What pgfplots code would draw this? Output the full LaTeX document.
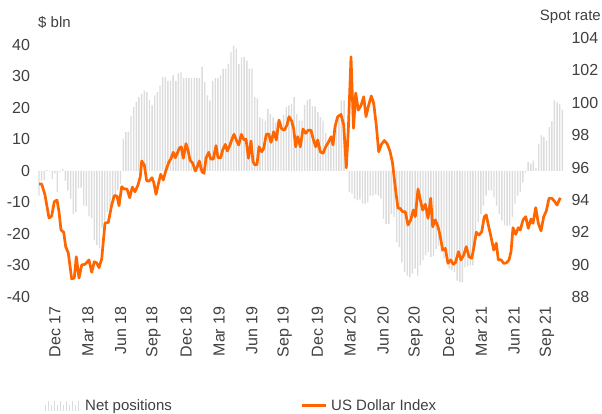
\documentclass[border=0pt]{standalone}
\usepackage{fontspec}
\setmainfont{Liberation Sans}
\usepackage{pgfplots}
\pgfplotsset{compat=1.18}
\definecolor{dxy}{RGB}{255,102,0}
\definecolor{barg}{RGB}{220,220,220}
\definecolor{txt}{RGB}{64,64,64}

\begin{document}
\begin{tikzpicture}[font=\fontsize{15}{18}\selectfont, text=txt]
\useasboundingbox (0,0) rectangle (602pt,414pt);
\pgfplotsset{base/.style={at={(38pt,117pt)}, anchor=south west, scale only axis,
  width=527pt, height=259pt, xmin=38, xmax=565,
  axis line style={draw=none}, tick style={draw=none},
  /pgf/number format/assume math mode=true,
  tick label style={font=\fontsize{16}{19}\selectfont, text=txt}}}
\begin{axis}[base, ymin=-40, ymax=42.2, ytick={-40,-30,...,40},
  yticklabel style={xshift=-4.5pt},
  xtick={55,87.8,...,547},
  xticklabels={Dec 17,Mar 18,Jun 18,Sep 18,Dec 18,Mar 19,Jun 19,Sep 19,Dec 19,Mar 20,Jun 20,Sep 20,Dec 20,Mar 21,Jun 21,Sep 21},
  xticklabel style={rotate=90, anchor=east, xshift=-6pt}]
\addplot[ybar, bar width=1.4pt, bar shift=0pt, fill=barg, draw=none] coordinates {
(39.0,-7.8)(41.6,-3.1)(44.3,-2.8)(46.9,0.3)(49.5,-0.2)(52.2,-2.6)(54.8,-0.8)(57.4,-6.7)(60.0,-0.4)(62.7,0.7)
(65.3,-3.1)(67.9,-6.2)(70.6,-8.8)(73.2,-13.6)(75.8,-13.1)(78.5,-5.5)(81.1,-5.3)(83.7,-11)(86.3,-11.2)(89.0,-14.3)
(91.6,-15)(94.2,-22)(96.9,-23.5)(99.5,-24.5)(102.1,-18)(104.7,-16)(107.4,-13)(110.0,-11)(112.6,-10)(115.3,-8.5)
(117.9,-6)(120.5,-4)(123.2,10.3)(125.8,12.3)(128.4,12.5)(131.0,17.6)(133.7,20.3)(136.3,21.9)(138.9,23.4)(141.6,24.5)
(144.2,25.5)(146.8,25)(149.5,22.6)(152.1,20.8)(154.7,24)(157.3,25)(160.0,27)(162.6,29.8)(165.2,29.9)(167.9,28.6)
(170.5,28.6)(173.1,30.3)(175.8,28.5)(178.4,31)(181.0,31.3)(183.6,29.5)(186.3,29.5)(188.9,29.5)(191.5,29.5)(194.2,29.5)
(196.8,29.5)(199.4,29.5)(202.1,33)(204.7,28.2)(207.3,24)(209.9,22.4)(212.6,28.6)(215.2,29.5)(217.8,29.5)(220.5,30.3)
(223.1,32.4)(225.7,32.4)(228.4,34)(231.0,37.7)(233.6,39.8)(236.2,38.8)(238.9,34)(241.5,36)(244.1,36.1)(246.8,35)
(249.4,32.5)(252.0,32.5)(254.7,23.4)(257.3,23)(259.9,17)(262.5,16.5)(265.2,16)(267.8,19.7)(270.4,18)(273.1,17)
(275.7,15.4)(278.3,15.4)(281.0,15.4)(283.6,17.9)(286.2,20.3)(288.8,20.8)(291.5,21.3)(294.1,23.4)(296.7,18)(299.4,16)
(302.0,16)(304.6,21)(307.3,22.4)(309.9,22.9)(312.5,20.5)(315.1,20.5)(317.8,18.7)(320.4,17.1)(323.0,16)(325.7,12)
(328.3,9.7)(330.9,9.5)(333.6,12.9)(336.2,16.8)(338.8,17)(341.4,22.4)(344.1,22.4)(346.7,0)(349.3,-6.7)(352.0,-7.2)
(354.6,-8.8)(357.2,-9.3)(359.9,-9)(362.5,-10.4)(365.1,-10.4)(367.7,-10)(370.4,-7.8)(373.0,-7.8)(375.6,-7.4)(378.3,-7.8)
(380.9,-8.8)(383.5,-15.2)(386.1,-16.8)(388.8,-16.8)(391.4,-13.6)(394.0,-14.6)(396.7,-22.6)(399.3,-24.2)(401.9,-29)(404.6,-32.1)
(407.2,-33.2)(409.8,-33.7)(412.4,-32.6)(415.1,-31)(417.7,-33.2)(420.3,-30)(423.0,-28.4)(425.6,-26.8)(428.2,-25.8)(430.8,-27.3)
(433.5,-27)(436.1,-24.7)(438.7,-23.7)(441.4,-25.8)(444.0,-27.8)(446.6,-29)(449.3,-31)(451.9,-31.5)(454.5,-32.1)(457.1,-34.8)
(459.8,-35.3)(462.4,-35.3)(465.0,-30.6)(467.7,-30.3)(470.3,-30)(472.9,-30)(475.5,-20.5)(478.2,-16.3)(480.8,-13.6)(483.4,-11)
(486.1,-7.8)(488.7,-6.2)(491.3,-6.2)(494.0,-8.4)(496.6,-11)(499.2,-13.6)(501.8,-15.7)(504.5,-17.3)(507.1,-17.5)(509.7,-17.3)
(512.4,-14.6)(515.0,-10.4)(517.6,-7.8)(520.2,-6.7)(522.9,-3.6)(525.5,-0.5)(528.1,2.8)(530.8,2.3)(533.4,3.3)(536.0,1)
(538.7,8.6)(541.3,11.3)(543.9,10.8)(546.5,9.7)(549.2,13.9)(551.8,15.7)(554.4,22.4)(557.1,21.8)(559.7,21.3)(562.3,19.5)
};
\end{axis}
\begin{axis}[base, axis y line*=right, axis x line=none, ymin=88, ymax=104,
  ytick={88,90,...,104}, yticklabel style={xshift=3pt}]
\addplot[dxy, line width=2.7pt, line join=round] coordinates {
(39,94.98)(41.7,94.98)(45,94.3)(49,92.88)(51.7,93.0)(54.3,93.89)(57,93.99)(59,93.27)(61,92.14)(63.7,92.0)
(65.7,91.11)(68.3,90.72)(71.7,89.11)(74.3,89.19)(76.3,90.49)(79,89.17)(81.7,89.98)(85,90.02)(89,90.29)(91.7,89.53)
(94.3,90.18)(96.7,90.1)(99,89.81)(101.7,90.35)(105,92.57)(108.3,92.61)(111.7,93.68)(114.3,94.26)(117,94.24)(119,93.64)
(121.7,94.81)(124.3,94.67)(127,94.67)(129.7,94.13)(132.3,94.79)(135,94.5)(138,94.92)(140.3,95.43)(141.7,96.4)(144.3,96.16)
(146.7,95.17)(149.3,95.17)(152,95.37)(154,95.02)(156,94.34)(158.7,95.08)(160.7,95.58)(163.3,95.23)(166,95.84)(168.7,96.3)
(171.3,96.6)(173.3,96.94)(175.3,96.6)(177.3,96.88)(179.3,97.19)(181.3,97.28)(183.3,96.57)(186,97.47)(188,97.08)(190,96.46)
(192.7,96.26)(195.3,95.78)(197.3,96.05)(199.3,96.4)(202,95.74)(204,95.64)(206,96.57)(208.7,96.94)(210.7,96.52)(213.3,96.52)
(216,97.35)(218,96.6)(220.7,96.6)(222.7,97.08)(225.3,97.43)(227.3,97.02)(230,97.39)(232,97.76)(234,98.05)(236.7,97.64)
(238.7,97.39)(241.3,98.05)(244,97.7)(246,97.75)(248.5,96.57)(251,97.64)(253,96.36)(255,96.15)(257,96.2)(259,97.28)
(261.7,96.97)(263.7,97.18)(266.3,98.05)(268.7,98.07)(271,97.55)(273.7,98.21)(276.3,97.7)(279,98.93)(281.7,98.38)(284.3,98.31)
(287,98.62)(289,99.14)(291.7,98.87)(293.7,98.38)(295.7,97.28)(297.7,97.9)(300.3,97.28)(303,98.38)(305.7,98.11)(308.3,98.31)
(311,98.3)(313,97.8)(315.7,97.28)(317.7,97.7)(320.3,96.97)(323,96.88)(325.7,97.28)(328.3,97.55)(331,97.9)(333,97.39)
(335,98.52)(337.7,99.14)(341,99.28)(343.7,98.62)(346.3,95.98)(348.3,98.31)(351,102.84)(353.5,98.42)(355.7,100.6)(358.3,99.55)
(361,99.83)(363.7,100.37)(366,99.14)(368.7,99.86)(371.3,100.42)(373.7,99.96)(376.3,98.6)(378.7,96.97)(381.3,97.42)(384.3,97.67)
(387.3,97.45)(390,97.0)(392.5,96.3)(394.3,95.3)(396,94.41)(398,93.48)(400,93.48)(402.7,93.27)(405.3,93.27)(408,92.45)
(410.7,92.76)(413.3,93.37)(415.3,92.96)(418,94.67)(420.7,93.89)(422.7,93.37)(425.3,93.73)(428,92.86)(430.7,94.1)(432.7,92.34)
(435.3,92.76)(438,92.34)(440,91.83)(442.7,90.9)(445.3,91.0)(448,90.08)(450.7,90.29)(453.3,90.02)(455.5,90.13)(458.5,90.8)
(461,90.29)(463.7,90.59)(466.3,91.11)(469,90.49)(471.7,90.39)(473.7,91.0)(476.3,92.0)(479,91.83)(481.7,92.03)(484.3,92.96)
(486.3,93.07)(488.3,92.45)(491,91.72)(493.7,90.9)(496.3,91.32)(498.3,90.29)(501,90.3)(503.7,90.08)(506.3,90.1)(509,90.29)
(511,90.8)(513,92.28)(515.7,91.87)(518.3,92.28)(520.3,92.14)(523,92.76)(525.7,92.96)(528.3,92.24)(531,92.82)(533,92.55)
(535.7,93.52)(538.3,92.55)(541,92.08)(543.7,92.96)(546.3,93.31)(549,94.1)(551.7,94.1)(554.3,93.93)(557,93.68)(560.3,94.13)
};
\end{axis}
\node[anchor=west, inner sep=0pt] at (38pt,392pt) {\$ bln};
\node[anchor=east, inner sep=0pt] at (601pt,397pt) {Spot rate};
\foreach \i/\h in {0/6,1/10,2/6,3/10,4/6,5/10,6/6,7/10,8/6,9/10,10/6,11/10}
  \draw[barg, line width=1.1pt] ({45.5pt+\i*3pt},3.3pt) -- ++(0,{\h*1pt});
\node[anchor=base west, inner sep=0pt] at (85pt,3.3pt) {Net positions};
\draw[dxy, line width=2.7pt] (302pt,8.5pt) -- (326pt,8.5pt);
\node[anchor=base west, inner sep=0pt] at (331pt,3.3pt) {US Dollar Index};
\end{tikzpicture}
\end{document}
